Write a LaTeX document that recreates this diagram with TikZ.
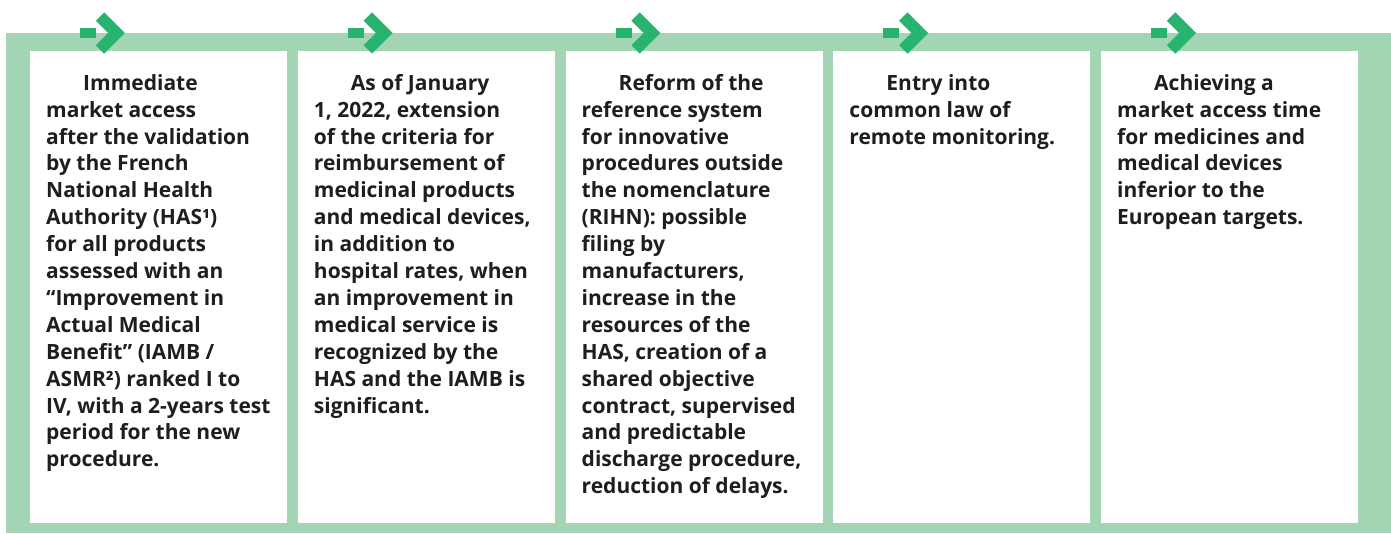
\documentclass[tikz,border=0pt]{standalone}
\usepackage{fontspec}
\setmainfont{Open Sans}
\definecolor{framegreen}{HTML}{A3D5B4}
\definecolor{arrowgreen}{HTML}{28B46F}
\definecolor{textgrey}{HTML}{1E1E1E}
\tikzset{
  stagebox/.style={fill=white, inner sep=0pt, minimum width=257pt, minimum height=472pt, anchor=north west},
  stagetext/.style={anchor=north west, align=left, inner sep=0pt, text=textgrey,
    font=\bfseries\fontsize{21pt}{26.9pt}\selectfont},
  chevron/.style={draw=arrowgreen, line width=12pt, miter limit=4},
}
% arrow mark above a box, #1 = left edge of the box
\newcommand{\stagearrow}[1]{
  \fill [arrowgreen] ({#1+50}, 28) rectangle ({#1+66}, 38);
  \draw [chevron] ({#1+70}, 16.5) -- ({#1+86.5}, 33) -- ({#1+70}, 49.5);
}
% indent of the first line, with a fixed strut of 20pt
\newcommand{\firstline}{\hspace*{37pt}\rule{0pt}{20pt}}

\begin{document}
\begin{tikzpicture}[x=1pt, y=-1pt]
  \useasboundingbox (0, 0) rectangle (1391, 533);
  \fill [framegreen] (6, 33) rectangle (1391, 533);

  \foreach \i in {0,...,4} {
    \node [stagebox] (box\i) at ({30+\i*267.75}, 51) {};
    \stagearrow{30+\i*267.75}
  }

  \node [stagetext] (text0) at ([xshift=16pt, yshift=-19pt]box0.north west)
    {\firstline Immediate\\market access\\after the validation\\by the French\\National Health\\Authority (HAS¹)\\for all products\\assessed with an\\“Improvement in\\Actual Medical\\Benefit” (IAMB /\\ASMR²) ranked I to\\IV, with a 2-years test\\period for the new\\procedure.};
  \node [stagetext] (text1) at ([xshift=16pt, yshift=-19pt]box1.north west)
    {\firstline As of January\\1, 2022, extension\\of the criteria for\\reimbursement of\\medicinal products\\and medical devices,\\in addition to\\hospital rates, when\\an improvement in\\medical service is\\recognized by the\\HAS and the IAMB is\\significant.};
  \node [stagetext] (text2) at ([xshift=16pt, yshift=-19pt]box2.north west)
    {\firstline Reform of the\\reference system\\for innovative\\procedures outside\\the nomenclature\\(RIHN): possible\\filing by\\manufacturers,\\increase in the\\resources of the\\HAS, creation of a\\shared objective\\contract, supervised\\and predictable\\discharge procedure,\\reduction of delays.};
  \node [stagetext] (text3) at ([xshift=16pt, yshift=-19pt]box3.north west)
    {\firstline Entry into\\common law of\\remote monitoring.};
  \node [stagetext] (text4) at ([xshift=16pt, yshift=-19pt]box4.north west)
    {\firstline Achieving a\\market access time\\for medicines and\\medical devices\\inferior to the\\European targets.};
\end{tikzpicture}
\end{document}
